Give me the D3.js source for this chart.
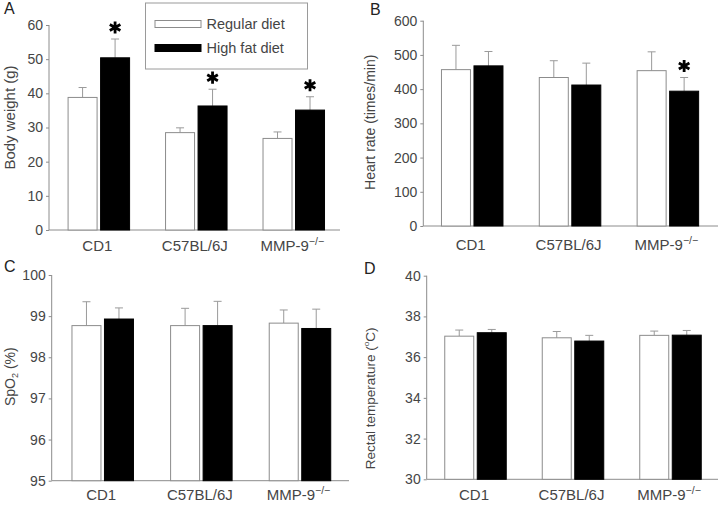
<!DOCTYPE html>
<html>
<head>
<meta charset="utf-8">
<script src="https://cdn.jsdelivr.net/npm/d3@7"></script>
<style>
  html, body { margin: 0; padding: 0; background: #fff; }
  svg { display: block; font-family: "Liberation Sans", Arial, Helvetica, sans-serif; }
</style>
</head>
<body>
<svg id="chart" width="720" height="505"></svg>
<script>
// ---------- data ----------
const categories = ["CD1", "C57BL/6J", "MMP-9"];
const series = ["Regular diet", "High fat diet"];

const bodyWeightMean = [[38.8, 50.4], [28.5, 36.3], [26.8, 35.1]];
const bodyWeightErr  = [[41.7, 55.9], [29.9, 41.2], [28.7, 39.0]];
const bodyWeightSig  = [[false, true], [false, true], [false, true]];
const bodyWeightTicks = [0, 10, 20, 30, 40, 50, 60];

const heartRateMean = [[457, 468], [434, 412], [454, 394]];
const heartRateErr  = [[528, 510], [483, 476], [509, 434]];
const heartRateSig  = [[false, false], [false, false], [false, true]];
const heartRateTicks = [0, 100, 200, 300, 400, 500, 600];

const spo2Mean = [[98.77, 98.93], [98.77, 98.77], [98.83, 98.70]];
const spo2Err  = [[99.35, 99.20], [99.19, 99.36], [99.15, 99.17]];
const spo2Sig  = [[false, false], [false, false], [false, false]];
const spo2Ticks = [95, 96, 97, 98, 99, 100];

const tempMean = [[37.03, 37.20], [36.95, 36.79], [37.07, 37.08]];
const tempErr  = [[37.33, 37.36], [37.26, 37.07], [37.28, 37.31]];
const tempSig  = [[false, false], [false, false], [false, false]];
const tempTicks = [30, 32, 34, 36, 38, 40];

// ---------- styles ----------
const textColor = "#454545";
const axisColor = "#8c8c8c";
const outlineColor = "#8c8c8c";
const errColor = "#9a9a9a";

const svg = d3.select("#chart");

const panels = [
  { letter: "A", lx: 4, ly: 14, mean: bodyWeightMean, err: bodyWeightErr, sig: bodyWeightSig, ticks: bodyWeightTicks,
    domain: [0, 60], yRange: [230, 25], axisX: 49, axisEnd: 340, band: [50.1, 342.5],
    ylabel: [{t: "Body weight (g)"}], ylx: 15, lyc: 117.5, lfs: 15, catY: 250.5 },
  { letter: "B", lx: 370, ly: 15, mean: heartRateMean, err: heartRateErr, sig: heartRateSig, ticks: heartRateTicks,
    domain: [0, 600], yRange: [226, 20.7], axisX: 423.3, axisEnd: 718, band: [423.3, 716.8],
    ylabel: [{t: "Heart rate (times/min)"}], ylx: 375, lyc: 122.3, lfs: 14, catY: 250 },
  { letter: "C", lx: 4, ly: 271.5, mean: spo2Mean, err: spo2Err, sig: spo2Sig, ticks: spo2Ticks,
    domain: [95, 100], yRange: [480.7, 275], axisX: 51.7, axisEnd: 349, band: [53.4, 349.3],
    ylabel: [{t: "SpO"}, {t: "2", sub: true}, {t: " (%)"}], ylx: 15, lyc: 376.7, lfs: 14, catY: 499.5 },
  { letter: "D", lx: 364, ly: 273.5, mean: tempMean, err: tempErr, sig: tempSig, ticks: tempTicks,
    domain: [30, 40], yRange: [479.3, 275.7], axisX: 426.7, axisEnd: 718, band: [426.75, 719.25],
    ylabel: [{t: "Rectal temperature ("}, {t: "o", sup: true}, {t: "C)"}], ylx: 375, lyc: 398.3, lfs: 13.5, catY: 500 }
];

panels.forEach(p => {
  const g = svg.append("g");
  const y = d3.scaleLinear().domain(p.domain).range(p.yRange);
  const x0 = d3.scaleBand().domain(categories).range(p.band);
  const groupW = 62.5;
  const x1 = d3.scaleBand().domain(series).range([0, groupW]).paddingInner(0.077);

  // panel letter
  g.append("text").attr("x", p.lx).attr("y", p.ly).attr("font-size", 16)
    .attr("fill", "#222").text(p.letter);

  // y axis
  const yAxis = d3.axisLeft(y).tickValues(p.ticks).tickSize(3).tickPadding(3).tickFormat(d3.format("d"));
  const ya = g.append("g").attr("transform", `translate(${p.axisX},0)`).call(yAxis);
  ya.select(".domain").attr("stroke", axisColor).attr("d", `M0,${p.yRange[1]}V${p.yRange[0]}`);
  ya.selectAll(".tick line").attr("stroke", axisColor);
  ya.selectAll(".tick text").attr("fill", textColor).attr("font-size", 14)
    .attr("font-family", "'Liberation Sans', Arial, sans-serif");

  // x axis line
  g.append("line").attr("x1", p.axisX).attr("x2", p.axisEnd)
    .attr("y1", p.yRange[0]).attr("y2", p.yRange[0]).attr("stroke", axisColor);

  // category labels
  categories.forEach((c, i) => {
    const t = g.append("text")
      .attr("x", x0(c) + x0.bandwidth() / 2 - 1.5).attr("y", p.catY)
      .attr("text-anchor", "middle").attr("font-size", 15).attr("fill", textColor);
    t.append("tspan").text(c);
    if (c === "MMP-9") {
      t.append("tspan").attr("dy", -6).attr("font-size", 10.5).text("\u2212/\u2212");
    }
  });

  // y label
  const lab = g.append("text")
    .attr("transform", `translate(${p.ylx},${p.lyc}) rotate(-90)`)
    .attr("text-anchor", "middle").attr("font-size", p.lfs).attr("fill", textColor);
  p.ylabel.forEach(part => {
    const ts = lab.append("tspan").text(part.t);
    if (part.sub) { ts.attr("font-size", p.lfs * 0.65).attr("dy", 3); }
    else if (part.sup) { ts.attr("font-size", p.lfs * 0.6).attr("dy", -6); }
  });
  lab.selectAll("tspan").each(function(d, i) {
    if (i > 0) {
      const prev = p.ylabel[i - 1];
      if (prev.sub && !p.ylabel[i].sub) d3.select(this).attr("dy", -3);
      if (prev.sup && !p.ylabel[i].sup) d3.select(this).attr("dy", 6);
    }
  });

  const base = y(p.domain[0]);
  categories.forEach((c, i) => {
    const gx = x0(c) + x0.bandwidth() / 2 - groupW / 2;
    series.forEach((s, j) => {
      const bx = gx + x1(s);
      const bw = x1.bandwidth();
      const cx = bx + bw / 2;
      const v = p.mean[i][j], e = p.err[i][j];
      g.append("line").attr("x1", cx).attr("x2", cx).attr("y1", y(v)).attr("y2", y(e))
        .attr("stroke", errColor).attr("stroke-width", 1);
      g.append("line").attr("x1", cx - 4).attr("x2", cx + 4).attr("y1", y(e)).attr("y2", y(e))
        .attr("stroke", errColor).attr("stroke-width", 1);
      g.append("rect").attr("x", bx + 0.5).attr("y", y(v)).attr("width", bw - 1)
        .attr("height", base - y(v))
        .attr("fill", j === 0 ? "#fff" : "#000")
        .attr("stroke", j === 0 ? outlineColor : "#000").attr("stroke-width", 1);
      if (p.sig[i][j]) {
        g.append("path")
          .attr("d", d3.symbol().type(d3.symbolAsterisk).size(105)())
          .attr("transform", `translate(${cx},${y(e) - 11.5})`)
          .attr("stroke", "#000").attr("stroke-width", 2.8).attr("fill", "none");
      }
    });
  });
});

// ---------- legend ----------
const lg = svg.append("g");
lg.append("rect").attr("x", 145.5).attr("y", 3).attr("width", 162).attr("height", 66)
  .attr("fill", "#fff").attr("stroke", "#9a9a9a");
series.forEach((s, j) => {
  const yy = j === 0 ? 20.5 : 44.5;
  lg.append("rect").attr("x", 155).attr("y", yy).attr("width", 46).attr("height", 7)
    .attr("fill", j === 0 ? "#fff" : "#000").attr("stroke", j === 0 ? outlineColor : "#000");
  lg.append("text").attr("x", 206.5).attr("y", j === 0 ? 28.5 : 52.5)
    .attr("font-size", 14.5).attr("fill", textColor).text(s);
});
</script>
</body>
</html>
